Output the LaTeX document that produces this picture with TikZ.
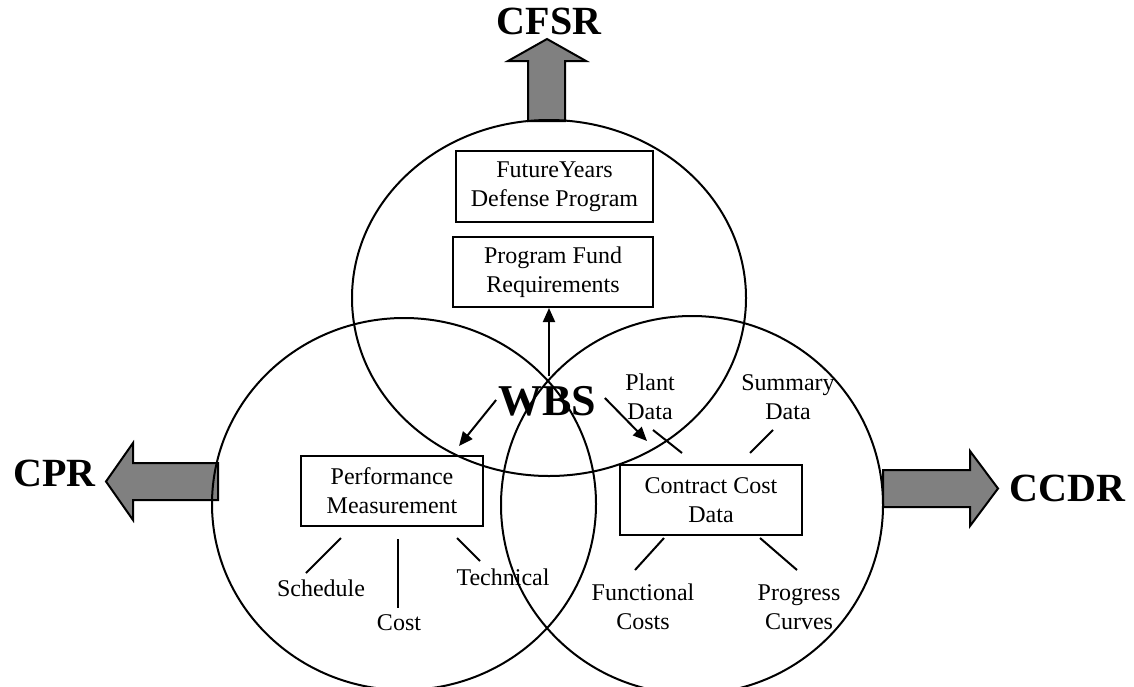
\documentclass[tikz,border=0pt]{standalone}
\usepackage{fontspec}
\setmainfont{Liberation Serif}
\usetikzlibrary{arrows.meta,calc}
\definecolor{arrowgray}{RGB}{128,128,128}

\begin{document}
\begin{tikzpicture}[x=0.5pt,y=-0.5pt,line width=1pt,>={Triangle[length=7pt,width=6pt]},
   box/.style={draw,inner sep=0pt,align=center,minimum width=91pt,minimum height=35pt,
     font=\fontsize{12}{14.5}\selectfont},
   lbl/.style={inner sep=0pt,align=center,font=\fontsize{12}{14.5}\selectfont},
   big/.style={inner sep=0pt,font=\fontsize{20}{24}\selectfont\bfseries},
   blockarrow/.style={draw,fill=arrowgray,line join=miter}]
  \useasboundingbox (0,0) rectangle (1134,686);
  % block arrows out of the circles
  \draw[blockarrow] (528,121) -- (528,61) -- (508,61) -- (547,39) -- (586,61)
    -- (565,61) -- (565,121) -- cycle;
  \draw[blockarrow] (218,463) -- (133,463) -- (133,443) -- (106,481.5) -- (133,520)
    -- (133,500) -- (218,500) -- cycle;
  \draw[blockarrow] (883,470) -- (970,470) -- (970,451) -- (998,488.5) -- (970,526)
    -- (970,507) -- (883,507) -- cycle;
  \node[big] (cfsr) at (549,21) {CFSR};
  \node[big] (cpr) at (54.5,473.5) {CPR};
  \node[big] (ccdr) at (1067.5,488.5) {CCDR};
  % the three circles
  \draw (549,298) ellipse [x radius=197, y radius=178];
  \draw (404,504) ellipse [x radius=192, y radius=186];
  \draw (692,505) ellipse [x radius=191, y radius=189];
  % boxes
  \node[box,minimum width=98.5pt,minimum height=35.5pt] (fyp) at (554.5,186.5)
    {FutureYears\\Defense Program};
  \node[box,minimum width=100pt] (pfr) at (553,272) {Program Fund\\Requirements};
  \node[box] (perf) at (392,491) {Performance\\Measurement};
  \node[box] (ccd) at (711,500) {Contract Cost\\Data};
  \node[big,font=\fontsize{22}{26}\selectfont\bfseries] (wbs) at (547,401) {WBS};
  % labels
  \node[lbl] (sched) at (321,588) {Schedule};
  \node[lbl] (cost) at (399,623) {Cost};
  \node[lbl] (tech) at (503,577) {Technical};
  \node[lbl] (plant) at (650,397) {Plant\\Data};
  \node[lbl] (summ) at (788,397) {Summary\\Data};
  \node[lbl] (func) at (643,607) {Functional\\Costs};
  \node[lbl] (prog) at (799,607) {Progress\\Curves};
  % WBS arrows
  \draw[->] ($(wbs.north)+(2,-9)$) -- ($(pfr.south)+(-4,0)$);
  \draw[->] ($(wbs.west)+(-1,-1)$) -- ($(perf.north east)+(-25,-9)$);
  \draw[->] ($(wbs.east)+(8,-3)$) -- ($(ccd.north west)+(28,-23)$);
  % ties to the boxes
  \draw ($(perf.south)+(-51,11)$) -- ($(sched)+(-15,-15)$);
  \draw ($(perf.south)+(6,12)$) -- ($(cost)+(-1,-15)$);
  \draw ($(perf.south)+(65,11)$) -- ($(tech)+(-23,-16)$);
  \draw ($(plant)+(3,33)$) -- ($(ccd.north)+(-29,-11)$);
  \draw ($(summ)+(-15,33)$) -- ($(ccd.north)+(39,-11)$);
  \draw ($(ccd.south)+(-47,2)$) -- ($(func)+(-8,-37)$);
  \draw ($(ccd.south)+(49,2)$) -- ($(prog)+(-2,-37)$);
\end{tikzpicture}
\end{document}
